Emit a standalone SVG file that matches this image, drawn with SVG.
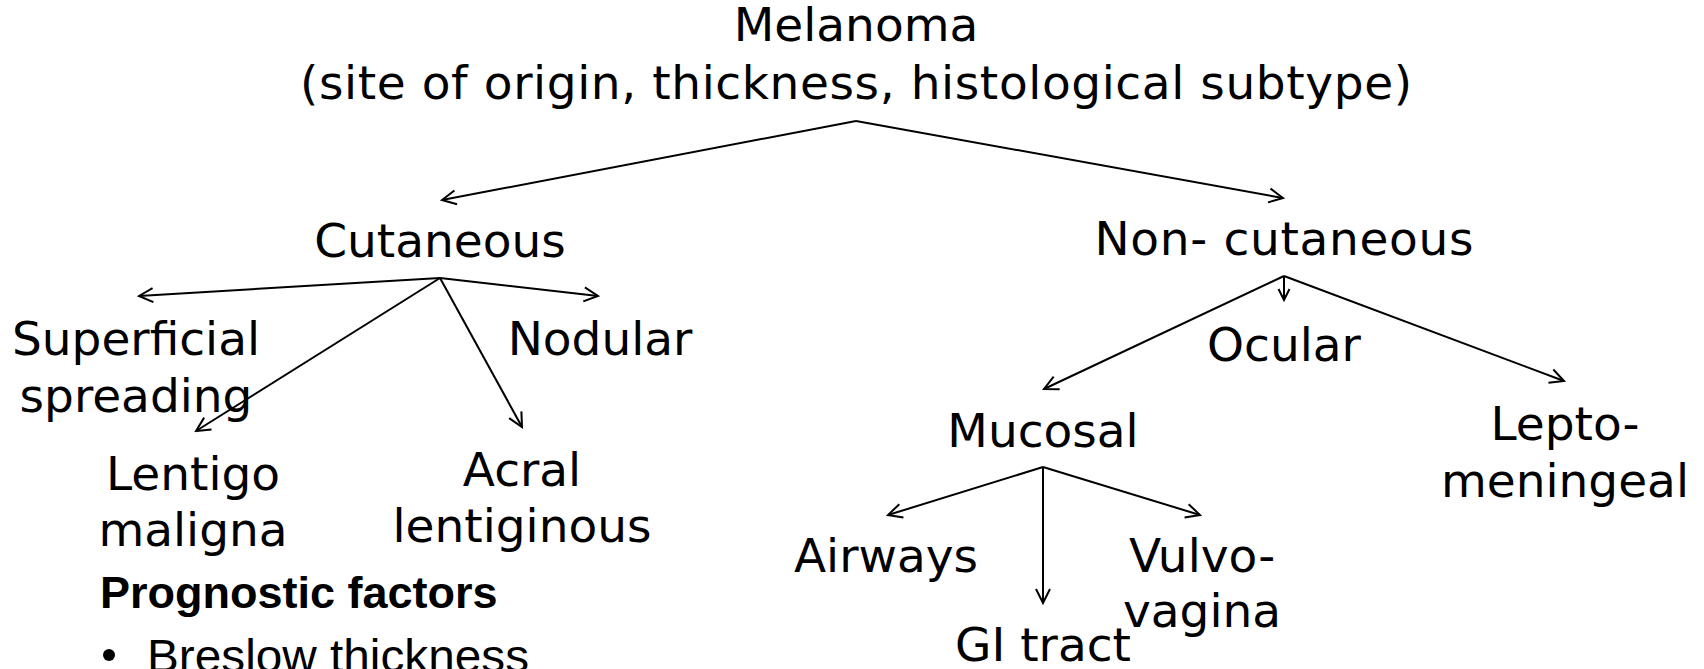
<svg xmlns="http://www.w3.org/2000/svg" width="1704" height="669" viewBox="0 0 1704 669">
  <style>
    .t { font-family: "DejaVu Sans", Verdana, sans-serif; font-size: 47px; fill: #000; text-anchor: middle; }
    .pf { font-family: "Liberation Sans", Arial, sans-serif; font-size: 45px; font-weight: bold; fill: #000; }
    .bl { font-family: "Liberation Sans", Arial, sans-serif; font-size: 47px; fill: #000; }
    .c { stroke: #000; stroke-width: 2; fill: none; marker-end: url(#arr); }
    .cs { stroke: #000; stroke-width: 2; fill: none; marker-end: url(#arrs); }
  </style>
  <defs>
    <marker id="arr" markerUnits="userSpaceOnUse" viewBox="-16 -9 18 18" markerWidth="18" markerHeight="18" refX="0" refY="0" orient="auto">
      <path d="M-14,-7 L0,0 L-14,7" fill="none" stroke="#000" stroke-width="2"/>
    </marker>
    <marker id="arrs" markerUnits="userSpaceOnUse" viewBox="-12 -7 14 14" markerWidth="14" markerHeight="14" refX="0" refY="0" orient="auto">
      <path d="M-11,-5.5 L0,0 L-11,5.5" fill="none" stroke="#000" stroke-width="2"/>
    </marker>
  </defs>
  <rect width="1704" height="669" fill="#fff"/>

  <g id="melanoma">
    <text class="t" x="856" y="41">Melanoma</text>
    <text class="t" x="856" y="99" textLength="1112" lengthAdjust="spacing">(site of origin, thickness, histological subtype)</text>
  </g>
  <g id="cutaneous"><text class="t" x="440" y="257">Cutaneous</text></g>
  <g id="non-cutaneous"><text class="t" x="1284" y="255" textLength="379" lengthAdjust="spacing">Non- cutaneous</text></g>
  <g id="superficial">
    <text class="t" x="136" y="355">Superficial</text>
    <text class="t" x="136" y="412">spreading</text>
  </g>
  <g id="nodular"><text class="t" x="600" y="355">Nodular</text></g>
  <g id="lentigo">
    <text class="t" x="193" y="490">Lentigo</text>
    <text class="t" x="193" y="546">maligna</text>
  </g>
  <g id="acral">
    <text class="t" x="522" y="486">Acral</text>
    <text class="t" x="522" y="542">lentiginous</text>
  </g>
  <g id="ocular"><text class="t" x="1284" y="361">Ocular</text></g>
  <g id="mucosal"><text class="t" x="1043" y="447">Mucosal</text></g>
  <g id="lepto">
    <text class="t" x="1565" y="440">Lepto-</text>
    <text class="t" x="1565" y="497">meningeal</text>
  </g>
  <g id="airways"><text class="t" x="886" y="572">Airways</text></g>
  <g id="gi"><text class="t" x="1043" y="661">GI tract</text></g>
  <g id="vulvo">
    <text class="t" x="1202" y="572">Vulvo-</text>
    <text class="t" x="1202" y="627">vagina</text>
  </g>
  <g id="prognostic">
    <text class="pf" x="100" y="608">Prognostic factors</text>
    <circle cx="109" cy="655" r="6" fill="#000"/>
    <text class="bl" x="147" y="672" textLength="382" lengthAdjust="spacingAndGlyphs">Breslow thickness</text>
  </g>

  <g id="connectors">
    <line class="c" x1="856" y1="121" x2="442" y2="200"/>
    <line class="c" x1="856" y1="121" x2="1283" y2="198"/>
    <line class="c" x1="440" y1="278" x2="139" y2="296"/>
    <line class="c" x1="440" y1="278" x2="598" y2="296"/>
    <line class="c" x1="440" y1="278" x2="196" y2="431"/>
    <line class="c" x1="440" y1="278" x2="522" y2="427"/>
    <line class="cs" x1="1284" y1="276" x2="1284" y2="300"/>
    <line class="c" x1="1284" y1="276" x2="1044" y2="389"/>
    <line class="c" x1="1284" y1="276" x2="1564" y2="381"/>
    <line class="c" x1="1043" y1="467" x2="888" y2="515"/>
    <line class="c" x1="1043" y1="467" x2="1043" y2="603"/>
    <line class="c" x1="1043" y1="467" x2="1200" y2="515"/>
  </g>
</svg>
